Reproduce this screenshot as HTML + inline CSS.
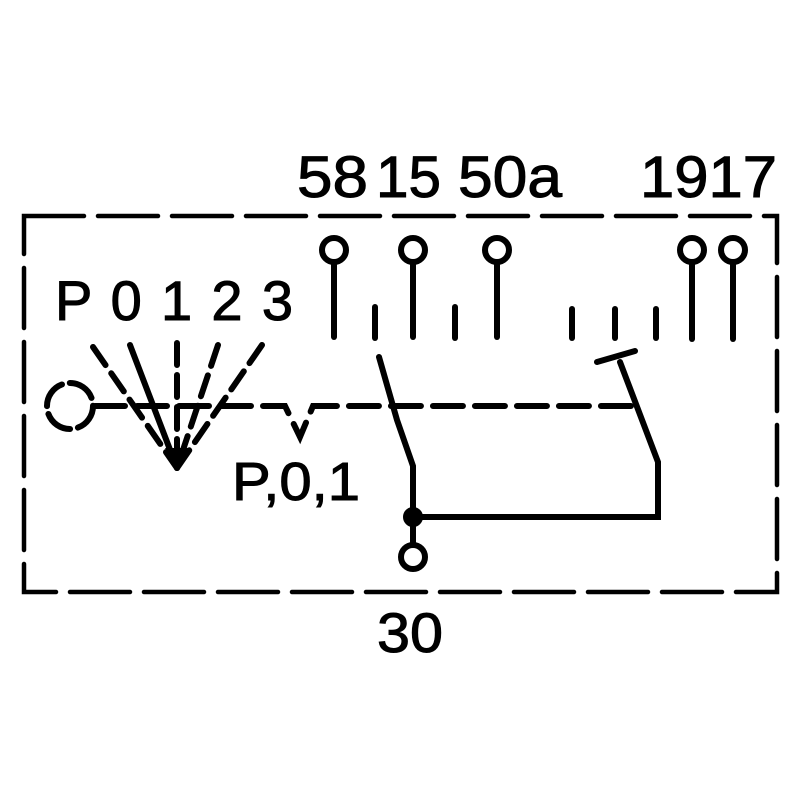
<!DOCTYPE html>
<html><head><style>html,body{margin:0;padding:0;background:#fff}</style></head>
<body>
<svg width="800" height="800" viewBox="0 0 800 800" xmlns="http://www.w3.org/2000/svg">
<g fill="none" stroke="#000" stroke-width="6" stroke-linecap="round">
<rect x="24" y="216" width="753" height="376" stroke-dasharray="60,14" stroke-width="4.5"/>
<circle cx="334" cy="250" r="12"/><line x1="334" y1="262" x2="334" y2="337"/>
<circle cx="413" cy="250" r="12"/><line x1="413" y1="262" x2="413" y2="337"/>
<circle cx="497" cy="250" r="12"/><line x1="497" y1="262" x2="497" y2="337"/>
<circle cx="692" cy="250" r="12"/><line x1="692" y1="262" x2="692" y2="339"/>
<circle cx="733" cy="250" r="12"/><line x1="733" y1="262" x2="733" y2="339"/>
<line x1="375" y1="307" x2="375" y2="338"/>
<line x1="455" y1="307" x2="455" y2="338"/>
<line x1="572" y1="309" x2="572" y2="338"/>
<line x1="615" y1="309" x2="615" y2="338"/>
<line x1="656" y1="309" x2="656" y2="338"/>
<polyline points="379,357 397,420 413,466 413,517 658,517 658,462 620,362"/>
<line x1="597" y1="362" x2="635" y2="351"/>
<line x1="413" y1="517" x2="413" y2="545"/>
<circle cx="413" cy="557" r="12"/>
<circle cx="413" cy="517" r="7" fill="#000"/>
<polyline points="95,406 285,406 300,437 313,406 640,406" stroke-dasharray="30,12"/>
<circle cx="70" cy="406" r="23" stroke-dasharray="28,8"/>
<line x1="93" y1="347" x2="177" y2="468" stroke-dasharray="22,10"/>
<line x1="130" y1="345" x2="177" y2="468"/>
<line x1="177" y1="343" x2="177" y2="468" stroke-dasharray="22,10"/>
<line x1="218" y1="345" x2="177" y2="468" stroke-dasharray="22,10"/>
<line x1="262" y1="345" x2="177" y2="468" stroke-dasharray="22,10"/>
</g>
<polygon points="165,448 189,448 177,470" fill="#000"/>
<g font-family="Liberation Sans, sans-serif" fill="#000" stroke="#000" stroke-width="1">
<text x="297" y="197" font-size="58" textLength="71" lengthAdjust="spacingAndGlyphs">58</text>
<text x="376" y="197" font-size="58" textLength="65" lengthAdjust="spacingAndGlyphs">15</text>
<text x="458" y="197" font-size="58" textLength="104" lengthAdjust="spacingAndGlyphs">50a</text>
<text x="640" y="197" font-size="58" textLength="137" lengthAdjust="spacingAndGlyphs">1917</text>
<text x="55" y="320" font-size="56" textLength="238" lengthAdjust="spacing">P 0 1 2 3</text>
<text x="232" y="500" font-size="54" textLength="128" lengthAdjust="spacingAndGlyphs">P,0,1</text>
<text x="377" y="652" font-size="56" textLength="66" lengthAdjust="spacingAndGlyphs">30</text>
</g>
</svg>
</body></html>
